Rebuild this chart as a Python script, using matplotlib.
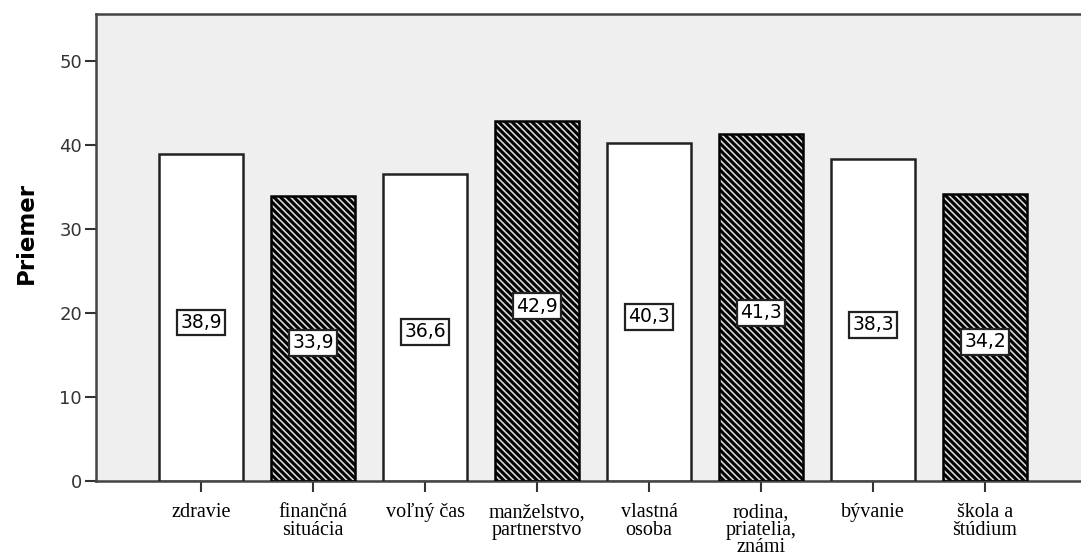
import numpy as np
import matplotlib
matplotlib.use('Agg')
from matplotlib import pyplot as plt

#%% DATA

categories = ['zdravie', 'finančná\nsituácia', 'voľný čas', 'manželstvo,\npartnerstvo',
              'vlastná\nosoba', 'rodina,\npriatelia,\nznámi', 'bývanie', 'škola a\nštúdium']
values = [38.9, 33.9, 36.6, 42.9, 40.3, 41.3, 38.3, 34.2]
hatched = [False, True, False, True, False, True, False, True]
value_labels = ['38,9', '33,9', '36,6', '42,9', '40,3', '41,3', '38,3', '34,2']
yticks = [0, 10, 20, 30, 40, 50]

#%% PLOT

plt.rcParams['hatch.linewidth'] = 1.2

fig = plt.figure(figsize=(10.81, 5.52), dpi=100)
ax = fig.add_axes([0.0888, 0.1286, 0.9112, 0.846])
ax.set_facecolor('#efefef')

x = np.arange(len(categories))
width = 0.75

for xi, v, h in zip(x, values, hatched):
    if h:
        ax.bar(xi, v, width, color='black', edgecolor='#d8d8d8', hatch='\\\\\\\\\\',
               linewidth=0, zorder=2)
        ax.bar(xi, v, width, fill=False, edgecolor='black', linewidth=1.8, zorder=3)
    else:
        ax.bar(xi, v, width, color='white', edgecolor='#222222', linewidth=1.8, zorder=3)

# value labels inside the bars
for xi, v, lab in zip(x, values, value_labels):
    ax.text(xi, v * 0.485, lab, ha='center', va='center', fontsize=13.5,
            color='black', zorder=4,
            bbox=dict(boxstyle='square,pad=0.18', facecolor='white',
                      edgecolor='#222222', linewidth=1.6))

ax.set_xlim(-0.9375, 7.857)
ax.set_ylim(0, 55.6)
ax.set_xticks(x)
ax.set_xticklabels(categories, family='Liberation Serif', fontsize=14.5,
                   linespacing=0.9)
ax.set_yticks(yticks)
ax.set_yticklabels([str(t) for t in yticks], fontsize=13, color='#333333')
ax.tick_params(axis='both', direction='out', length=8, width=1.5, color='#333333')
ax.tick_params(axis='x', pad=8)
ax.tick_params(axis='y', pad=2)

for side in ['left', 'bottom', 'top']:
    ax.spines[side].set_color('#444444')
    ax.spines[side].set_linewidth(1.8)
ax.spines['right'].set_visible(False)

ax.set_ylabel('Priemer', fontsize=16.5, fontweight='bold')
ax.yaxis.set_label_coords(-0.059, 0.531)

fig.savefig('out.png', dpi=100)
